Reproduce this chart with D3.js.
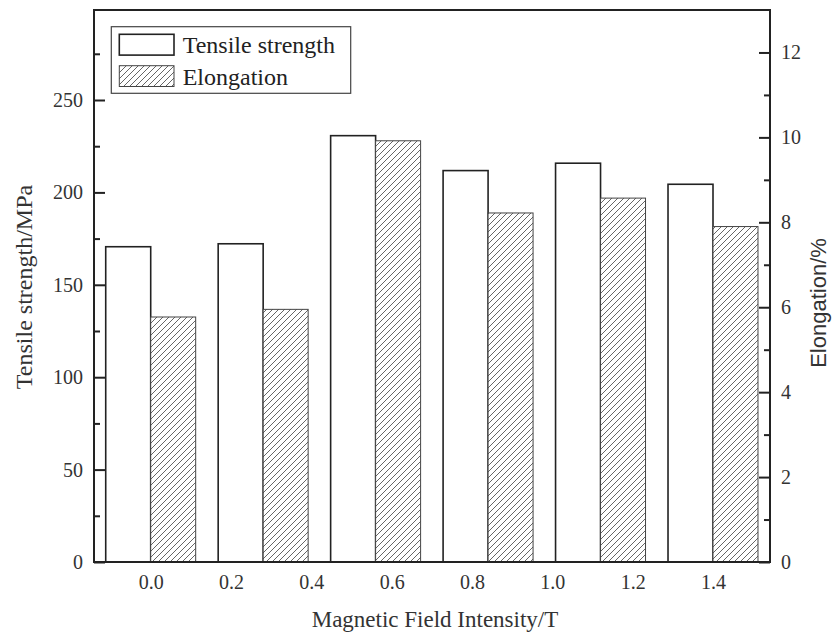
<!DOCTYPE html>
<html><head><meta charset="utf-8">
<script src="https://cdn.jsdelivr.net/npm/d3@7"></script>
<style>
html,body{margin:0;padding:0;background:#fff;}
svg{display:block;}
</style></head>
<body>
<script>
// ---- data ----
const groupPositions = [0, 0.28, 0.56, 0.84, 1.12, 1.4];
const tensileStrength = [170.6, 172.2, 230.7, 211.8, 215.8, 204.4];
const elongation = [5.77, 5.95, 9.92, 8.22, 8.57, 7.90];
const xTickValues = [0, 0.2, 0.4, 0.6, 0.8, 1.0, 1.2, 1.4];
const leftMajorTicks = [0, 50, 100, 150, 200, 250];
const leftMinorTicks = [25, 75, 125, 175, 225, 275];
const rightMajorTicks = [0, 2, 4, 6, 8, 10, 12];
const rightMinorTicks = [1, 3, 5, 7, 9, 11];
const seriesNames = ["Tensile strength", "Elongation"];

const W = 834, H = 636;
const L = 94, R = 770, T = 10, B = 562;
const serif = "'Liberation Serif','Times New Roman',serif";
const sans = "'Liberation Sans',Arial,sans-serif";
const ink = "#222";

const svg = d3.select("body").append("svg").attr("width", W).attr("height", H);

const defs = svg.append("defs");
const pat = defs.append("pattern").attr("id", "hatch")
  .attr("patternUnits", "userSpaceOnUse").attr("width", 6).attr("height", 6);
pat.append("rect").attr("width", 6).attr("height", 6).attr("fill", "#fff");
pat.append("path").attr("d", "M-1,1 l2,-2 M0,6 l6,-6 M5,7 l2,-2")
  .attr("stroke", "#555").attr("stroke-width", 0.9);

const x = d3.scaleLinear().domain([0, 1.4]).range([150.7, 713]);
const yL = d3.scaleLinear().domain([0, 298.7]).range([B, T]);
const yR = d3.scaleLinear().domain([0, 13]).range([B, T]);
const barW = (x(groupPositions[1]) - x(groupPositions[0])) * 0.4;

// bars
const g = svg.append("g");
g.selectAll("rect.ts").data(groupPositions).join("rect")
  .attr("x", d => x(d) - barW).attr("width", barW)
  .attr("y", (d, i) => yL(tensileStrength[i]))
  .attr("height", (d, i) => B - yL(tensileStrength[i]))
  .attr("fill", "#fff").attr("stroke", ink).attr("stroke-width", 1.6);
g.selectAll("rect.el").data(groupPositions).join("rect")
  .attr("x", d => x(d)).attr("width", barW)
  .attr("y", (d, i) => yR(elongation[i]))
  .attr("height", (d, i) => B - yR(elongation[i]))
  .attr("fill", "url(#hatch)").attr("stroke", "#444").attr("stroke-width", 1);

// frame
svg.append("rect").attr("x", L).attr("y", T).attr("width", R - L).attr("height", B - T)
  .attr("fill", "none").attr("stroke", ink).attr("stroke-width", 2);

function styleAxis(sel) {
  sel.select(".domain").remove();
  sel.selectAll("line").attr("stroke", ink).attr("stroke-width", 2);
  sel.selectAll("text").attr("fill", "#333").style("font-family", serif).style("font-size", "20px");
}

// left axis
svg.append("g").attr("transform", `translate(${L},0)`)
  .call(d3.axisLeft(yL).tickValues(leftMajorTicks).tickSize(-11).tickPadding(11).tickFormat(d3.format("d")))
  .call(styleAxis);
svg.append("g").attr("transform", `translate(${L},0)`)
  .call(d3.axisLeft(yL).tickValues(leftMinorTicks).tickSize(-6).tickFormat(""))
  .call(styleAxis);

// right axis
svg.append("g").attr("transform", `translate(${R},0)`)
  .call(d3.axisRight(yR).tickValues(rightMajorTicks).tickSize(-11).tickPadding(11).tickFormat(d3.format("d")))
  .call(styleAxis);
svg.append("g").attr("transform", `translate(${R},0)`)
  .call(d3.axisRight(yR).tickValues(rightMinorTicks).tickSize(-6).tickFormat(""))
  .call(styleAxis);

// bottom axis (labels only)
const bx = svg.append("g").attr("transform", `translate(0,${B})`)
  .call(d3.axisBottom(x).tickValues(xTickValues).tickSize(0).tickPadding(13).tickFormat(d3.format(".1f")))
  .call(styleAxis);

// axis titles
svg.append("text").attr("x", 435).attr("y", 627).attr("text-anchor", "middle")
  .style("font-family", serif).style("font-size", "23px").attr("fill", "#333")
  .text("Magnetic Field Intensity/T");
svg.append("text").attr("transform", "translate(32,287) rotate(-90)").attr("text-anchor", "middle")
  .style("font-family", serif).style("font-size", "24px").attr("fill", "#333")
  .text("Tensile strength/MPa");
svg.append("text").attr("transform", "translate(826,303) rotate(-90)").attr("text-anchor", "middle")
  .style("font-family", sans).style("font-size", "22px").attr("fill", "#333")
  .text("Elongation/%");

// legend
const lg = svg.append("g");
lg.append("rect").attr("x", 111.3).attr("y", 26.7).attr("width", 239.4).attr("height", 66.6)
  .attr("fill", "#fff").attr("stroke", "#444").attr("stroke-width", 1.2);
const fills = ["#fff", "url(#hatch)"];
const strokes = [ink, "#444"];
seriesNames.forEach((name, i) => {
  const yy = 34.3 + i * 31.4;
  lg.append("rect").attr("x", 119.3).attr("y", yy).attr("width", 54.7).attr("height", 20.8)
    .attr("fill", fills[i]).attr("stroke", strokes[i]).attr("stroke-width", i ? 1 : 1.6);
  lg.append("text").attr("x", 182.7).attr("y", yy + 19).style("font-family", serif)
    .style("font-size", "24px").attr("fill", "#222").text(name);
});
</script>
</body></html>
